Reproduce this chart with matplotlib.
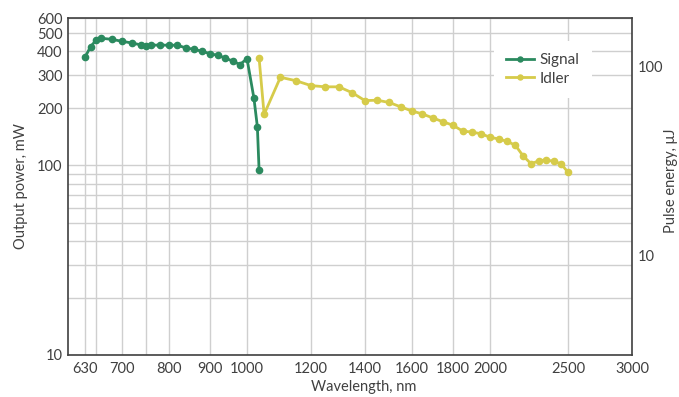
import matplotlib
matplotlib.use('Agg')
import matplotlib.pyplot as plt
from matplotlib.ticker import FixedLocator, NullFormatter, NullLocator

plt.rcParams['font.family'] = ['Lato', 'DejaVu Sans']
plt.rcParams['font.size'] = 10.5

# 信号光
signal_wl = [630, 640, 650, 660, 680, 700, 720, 740, 750, 760, 780, 800, 820, 840,
             860, 880, 900, 920, 940, 960, 980, 1000, 1020, 1030, 1035]
signal_mw = [373, 424, 458, 469, 463, 452, 443, 432, 429, 431, 432, 431, 431, 417,
             410, 400, 389, 381, 369, 355, 341, 366, 226, 160, 95]

# 闲频光
idler_wl = [1035, 1050, 1100, 1150, 1200, 1250, 1300, 1350, 1400, 1450, 1500, 1550,
            1600, 1650, 1700, 1750, 1800, 1850, 1900, 1950, 2000, 2050, 2100, 2150,
            2200, 2250, 2300, 2350, 2400, 2450, 2500]
idler_mw = [370, 186, 292, 280, 264, 260, 260, 242, 220, 221, 215, 204, 194, 187,
            178, 170, 163, 152, 150, 147, 141, 138, 134, 128, 112, 102, 106, 107,
            105, 102, 92]

x_ticks = [630, 700, 800, 900, 1000, 1200, 1400, 1600, 1800, 2000, 2500, 3000]
x_minor = [650, 750]
y_ticks = [10, 100, 200, 300, 400, 500, 600]
y_minor = [20, 30, 40, 50, 60, 70, 80, 90]

green = '#2b8a5f'
yellow = '#d6cb4a'
txt = '#404040'

fig = plt.figure(figsize=(6.79, 3.97), dpi=100)
ax = fig.add_axes([68/679, 42/397, 564/679, 337/397])

ax.plot(signal_wl, signal_mw, '-o', color=green, lw=2, ms=4.5, label='Signal', zorder=3)
ax.plot(idler_wl, idler_mw, '-o', color=yellow, lw=2, ms=4.5, label='Idler', zorder=3)

ax.set_xscale('log')
ax.set_yscale('log')
ax.set_xlim(600, 3000)
ax.set_ylim(10, 600)

ax.xaxis.set_major_locator(FixedLocator(x_ticks))
ax.xaxis.set_minor_locator(FixedLocator(x_minor))
ax.set_xticklabels([str(v) for v in x_ticks])
ax.xaxis.set_minor_formatter(NullFormatter())
ax.yaxis.set_major_locator(FixedLocator(y_ticks))
ax.yaxis.set_minor_locator(FixedLocator(y_minor))
ax.set_yticklabels([str(v) for v in y_ticks])
ax.yaxis.set_minor_formatter(NullFormatter())

ax.grid(True, which='both', color='#cfcfcf', lw=1.0)
ax.set_axisbelow(True)
ax.tick_params(which='both', length=0, colors=txt, labelsize=10.5)
ax.tick_params(axis='x', pad=5)
ax.tick_params(axis='y', pad=4)
for s in ax.spines.values():
    s.set_color('#404040')
    s.set_linewidth(1.2)

ax.set_xlabel('Wavelength, nm', color=txt, labelpad=3)
ax.xaxis.label.set_x(0.525)
ax.set_ylabel('Output power, mW', color=txt, labelpad=6)

# 右轴：脉冲能量
ax2 = ax.twinx()
ax2.set_yscale('log')
ax2.set_ylim(3, 180)
ax2.yaxis.set_major_locator(FixedLocator([10, 100]))
ax2.yaxis.set_minor_locator(NullLocator())
ax2.set_yticklabels(['10', '100'])
ax2.tick_params(which='both', length=0, colors=txt, labelsize=10.5, pad=4)
for s in ax2.spines.values():
    s.set_visible(False)
fig.text(671/679, 1 - 181/397, 'Pulse energy, μJ', color=txt, rotation=90,
         ha='center', va='center', fontsize=10.5)

h, l = ax.get_legend_handles_labels()
leg = ax2.legend(h, l, loc='upper left', bbox_to_anchor=(0.742, 0.955), frameon=True,
                 facecolor='white', edgecolor='none', framealpha=1, fancybox=False,
                 handlelength=1.8, handletextpad=0.4, borderpad=0.8, labelspacing=0.3,
                 fontsize=11, markerscale=0.8)
for t in leg.get_texts():
    t.set_color(txt)

plt.savefig('out.png', dpi=100)
